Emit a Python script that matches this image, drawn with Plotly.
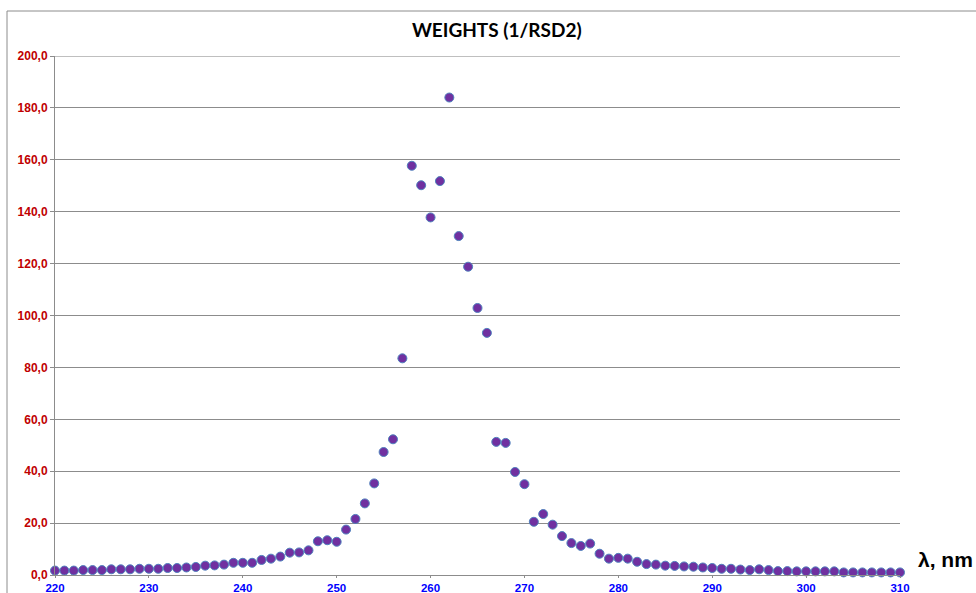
import plotly.graph_objects as go

wavelength = list(range(220, 311))
weights = [
    1.7, 1.7, 1.7, 1.9, 1.9, 1.9, 2.2, 2.2, 2.2, 2.4,   # 220-229
    2.4, 2.4, 2.7, 2.7, 2.9, 3.1, 3.6, 3.7, 4.0, 4.7,   # 230-239
    4.7, 4.7, 5.8, 6.3, 7.1, 8.6, 8.7, 9.5, 13.0, 13.4,  # 240-249
    12.8, 17.5, 21.6, 27.6, 35.3, 47.4, 52.3, 83.5, 157.7, 150.2,  # 250-259
    137.8, 151.8, 184.0, 130.6, 118.8, 102.9, 93.3, 51.3, 50.9, 39.7,  # 260-269
    35.0, 20.5, 23.5, 19.4, 15.0, 12.3, 11.2, 12.1, 8.2, 6.3,  # 270-279
    6.6, 6.3, 5.1, 4.2, 4.0, 3.6, 3.5, 3.3, 3.2, 2.9,   # 280-289
    2.7, 2.4, 2.4, 2.1, 1.9, 2.2, 1.9, 1.5, 1.5, 1.4,   # 290-299
    1.4, 1.4, 1.4, 1.4, 1.0, 1.0, 1.0, 1.0, 1.0, 1.0,   # 300-309
    1.0,                                                # 310
]
x_ticks = list(range(220, 311, 10))
y_ticks = list(range(0, 201, 20))
title_text = "WEIGHTS (1/RSD2)"
x_label = "λ, nm"

fig = go.Figure()
fig.add_trace(go.Scatter(
    x=wavelength, y=weights, mode="markers",
    marker=dict(symbol="circle", size=9, color="#7030A0",
                line=dict(color="#4F81BD", width=1)),
    cliponaxis=False, showlegend=False,
))

fig.update_layout(
    width=976, height=593,
    margin=dict(l=55, r=76, t=56, b=18, autoexpand=False),
    paper_bgcolor="white", plot_bgcolor="white",
    separators=",.",
    title=dict(text=title_text, x=0.509, xanchor="center", y=0.948, yanchor="middle",
               font=dict(family="Lato", size=19, color="black", weight="bold")),
    xaxis=dict(range=[220, 310], tickvals=x_ticks, showgrid=False, automargin=False,
               showline=True, linecolor="#8c8c8c", linewidth=1,
               ticks="outside", ticklen=2, tickcolor="#8c8c8c",
               tickfont=dict(family="Liberation Sans", size=11.5, color="#0000FF", weight="bold"),
               zeroline=False),
    yaxis=dict(range=[0, 200], tickvals=y_ticks, tickformat=".1f", automargin=False,
               showgrid=True, gridcolor="#8c8c8c", gridwidth=1,
               showline=True, linecolor="#8c8c8c", linewidth=1,
               ticks="outside", ticklen=4, tickcolor="#8c8c8c",
               tickfont=dict(family="Liberation Sans", size=12, color="#C00000", weight="bold"),
               zeroline=False),
    shapes=[
        dict(type="rect", xref="paper", yref="paper",
             x0=-0.0568, x1=1.2, y0=-0.2, y1=1.0867,
             line=dict(color="#8c8c8c", width=1), layer="below"),
        dict(type="line", xref="paper", yref="y", x0=0, x1=1, y0=200, y1=200,
             line=dict(color="#bfbfbf", width=2)),
    ],
    annotations=[
        dict(text=x_label, xref="paper", yref="paper", x=1.0189, y=0.029,
             xanchor="left", yanchor="middle", showarrow=False,
             font=dict(family="Liberation Sans", size=21, color="black", weight="bold")),
    ],
)

fig.write_html("out.html", config={"displayModeBar": False},
               post_script="document.body.style.margin='0';document.body.style.overflow='hidden';")
